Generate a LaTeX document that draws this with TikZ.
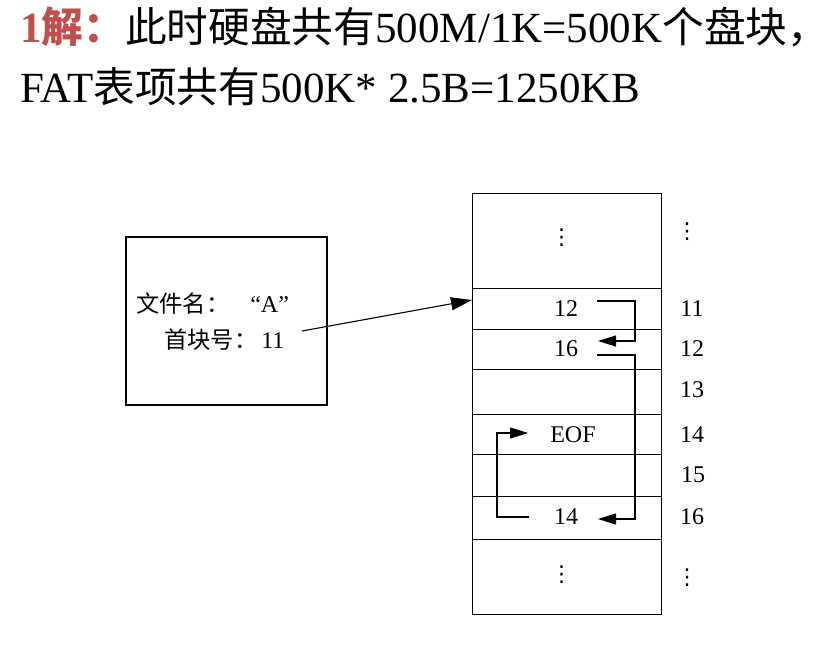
\documentclass[tikz,border=0pt]{standalone}
\usepackage{fontspec}
\setmainfont{Liberation Serif}
\newfontfamily\cjk[Scale=0.97]{Noto Sans CJK SC}
\newfontfamily\dejavu{DejaVu Sans}
\usetikzlibrary{arrows.meta}
\definecolor{titlered}{HTML}{C0504D}
\tikzset{
  cell/.style={draw, line width=1.1pt, minimum width=189pt, inner sep=0pt, anchor=north west},
  val/.style={inner sep=0pt, font=\fontsize{24}{28}\selectfont},
  arr/.style={line width=1.1pt, -{Triangle[length=18pt,width=11pt]}},
  mainarr/.style={line width=1.1pt, -{Triangle[length=21pt,width=13pt]}},
  dotsn/.style={inner sep=0pt, font=\dejavu\fontsize{22}{24}\selectfont}
}
\begin{document}
\begin{tikzpicture}[x=1pt,y=-1pt]
\useasboundingbox[fill=white] (0,0) rectangle (828,653);
% title
\node[anchor=base west, inner sep=0pt, font=\fontsize{43}{50}\selectfont] (t1) at (20,42)
  {{\color{titlered}\bfseries 1{\cjk 解：}}{\cjk 此时硬盘共有}500M/1K=500K{\cjk 个盘块\makebox[0.35em][l]{，}}};
\node[anchor=base west, inner sep=0pt, font=\fontsize{43}{50}\selectfont] (t2) at (20,102)
  {FAT{\cjk 表项共有}500K* 2.5B=1250KB};
% file box
\node[draw, line width=1.1pt, minimum width=201pt, minimum height=168pt, inner sep=0pt] (fbox) at (226.5,321) {};
\node[val, anchor=base west] (fname) at (136,312) {{\cjk 文件名：}\hspace{21pt}“A”};
\node[val, anchor=base west] (fblock) at (164,348) {{\cjk 首块号：}\hspace{4pt}11};
% table
\node[cell, minimum height=95pt] (rtop) at (472,193) {};
\node[cell, minimum height=41pt] (r11) at (472,288) {};
\node[cell, minimum height=40pt] (r12) at (472,329) {};
\node[cell, minimum height=45pt] (r13) at (472,369) {};
\node[cell, minimum height=40pt] (r14) at (472,414) {};
\node[cell, minimum height=42pt] (r15) at (472,454) {};
\node[cell, minimum height=43pt] (r16) at (472,496) {};
\node[cell, minimum height=75pt] (rbot) at (472,539) {};
% values
\node[val] (v11) at (566,309) {12};
\node[val] (v12) at (566,349) {16};
\node[val] (v14) at (573,435) {EOF};
\node[val] (v16) at (566,517) {14};
% right labels
\node[val] (n11) at (692,309) {11};
\node[val] (n12) at (692,349) {12};
\node[val] (n13) at (692,390) {13};
\node[val] (n14) at (692,435) {14};
\node[val] (n15) at (693,475) {15};
\node[val] (n16) at (692,517) {16};
% dots
\node[dotsn] (d1) at (561.5,238) {⋮};
\node[dotsn] (d2) at (687,232) {⋮};
\node[dotsn] (d3) at (561.5,575) {⋮};
\node[dotsn] (d4) at (687,578) {⋮};
% connectors
\coordinate (ms) at (302,331);
\coordinate (me) at (472,300);
\draw[mainarr] (ms) -- (me);
\coordinate (a1s) at (597,301);
\coordinate (a1c) at (635,341);
\coordinate (a1e) at (598,341);
\draw[arr] (a1s) -| (a1c) -- (a1e);
\coordinate (a2s) at (597,355);
\coordinate (a2c) at (635,519);
\coordinate (a2e) at (598,519);
\draw[arr] (a2s) -| (a2c) -- (a2e);
\coordinate (a3s) at (529,517);
\coordinate (a3c) at (497,433);
\coordinate (a3e) at (528,433);
\draw[arr] (a3s) -| (a3c) -- (a3e);
\end{tikzpicture}
\end{document}
